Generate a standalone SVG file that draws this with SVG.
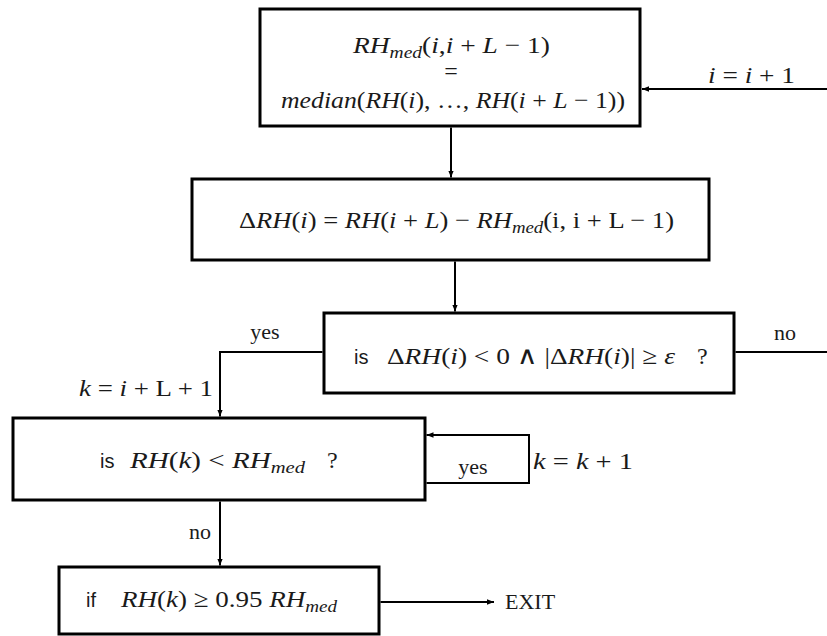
<svg xmlns="http://www.w3.org/2000/svg" width="827" height="636" viewBox="0 0 827 636">
<defs>
<style>
.box{fill:#fff;stroke:#000;stroke-width:3}
.c{fill:none;stroke:#000;stroke-width:2}
.m{font-family:"Liberation Serif","Times New Roman",serif;font-size:24px;fill:#1a1a1a}
.i{font-style:italic}
.s{font-size:17px;font-style:italic}
.op{font-family:"DejaVu Serif",serif;font-size:25px}
.l{font-family:"Liberation Serif","Times New Roman",serif;font-size:22px;fill:#1a1a1a}
.sans{font-family:"Liberation Sans",Arial,sans-serif;font-size:20px;fill:#1a1a1a}
</style>
<marker id="ah" viewBox="0 0 10 10" refX="10" refY="5" markerWidth="7" markerHeight="7" markerUnits="userSpaceOnUse" orient="auto"><path d="M0,1 L10,5 L0,9 z" fill="#000"/></marker>
</defs>
<rect width="827" height="636" fill="#fff"/>
<g id="connectors">
<path class="c" d="M827,89 H642" marker-end="url(#ah)"/>
<path class="c" d="M451,127.5 V177.5" marker-end="url(#ah)"/>
<path class="c" d="M455,261.5 V311.5" marker-end="url(#ah)"/>
<path class="c" d="M322.5,352 H220 V416.5" marker-end="url(#ah)"/>
<path class="c" d="M735.5,352 H827"/>
<path class="c" d="M426.5,483 H529 V435 H426.5" marker-end="url(#ah)"/>
<path class="c" d="M220,501.5 V565.5" marker-end="url(#ah)"/>
<path class="c" d="M380.5,602 H494" marker-end="url(#ah)"/>
</g>
<g id="labels">
<text class="m" x="708" y="83" textLength="87" lengthAdjust="spacingAndGlyphs"><tspan class="i">i</tspan> = <tspan class="i">i</tspan> + 1</text>
<text class="l" x="265" y="339" text-anchor="middle">yes</text>
<text class="l" x="785" y="340" text-anchor="middle">no</text>
<text class="m" x="79" y="396" textLength="134" lengthAdjust="spacingAndGlyphs"><tspan class="i">k</tspan> = <tspan class="i">i</tspan> + L + 1</text>
<text class="l" x="473" y="474" text-anchor="middle">yes</text>
<text class="m" x="533" y="469" textLength="100" lengthAdjust="spacingAndGlyphs"><tspan class="i">k</tspan> = <tspan class="i">k</tspan> + 1</text>
<text class="l" x="200" y="539" text-anchor="middle">no</text>
<text class="l" x="505" y="609">EXIT</text>
</g>
<g id="node-median">
<rect class="box" x="260" y="9" width="380" height="117"/>
<text class="m" x="353" y="53" textLength="197" lengthAdjust="spacingAndGlyphs"><tspan class="i">RH</tspan><tspan class="s" dy="5">med</tspan><tspan dy="-5">(</tspan><tspan class="i">i</tspan>,<tspan class="i">i</tspan> + <tspan class="i">L</tspan> − 1)</text>
<text class="m" x="451" y="79" text-anchor="middle">=</text>
<text class="m" x="281" y="108" textLength="344" lengthAdjust="spacingAndGlyphs"><tspan class="i">median</tspan>(<tspan class="i">RH</tspan>(<tspan class="i">i</tspan>), …, <tspan class="i">RH</tspan>(<tspan class="i">i</tspan> + <tspan class="i">L</tspan> − 1))</text>
</g>
<g id="node-delta">
<rect class="box" x="192" y="179" width="517" height="81"/>
<text class="m" x="239" y="228" textLength="435" lengthAdjust="spacingAndGlyphs">Δ<tspan class="i">RH</tspan>(<tspan class="i">i</tspan>) = <tspan class="i">RH</tspan>(<tspan class="i">i</tspan> + <tspan class="i">L</tspan>) − <tspan class="i">RH</tspan><tspan class="s" dy="5">med</tspan><tspan dy="-5">(i, i + L − 1)</tspan></text>
</g>
<g id="node-decision">
<rect class="box" x="324" y="313" width="410" height="80"/>
<text class="sans" x="354" y="364">is</text>
<text class="m" x="387" y="364" textLength="288" lengthAdjust="spacingAndGlyphs">Δ<tspan class="i">RH</tspan>(<tspan class="i">i</tspan>) &lt; 0 <tspan class="op">∧</tspan> |Δ<tspan class="i">RH</tspan>(<tspan class="i">i</tspan>)| ≥  <tspan class="i">ε</tspan></text>
<text class="m" x="697" y="364">?</text>
</g>
<g id="node-check">
<rect class="box" x="13" y="418" width="412" height="82"/>
<text class="sans" x="100" y="468">is</text>
<text class="m" x="130" y="468" textLength="175" lengthAdjust="spacingAndGlyphs"><tspan class="i">RH</tspan>(<tspan class="i">k</tspan>) &lt; <tspan class="i">RH</tspan><tspan class="s" dy="5">med</tspan></text>
<text class="m" x="327" y="468">?</text>
</g>
<g id="node-if">
<rect class="box" x="59" y="567" width="320" height="67"/>
<text class="sans" x="86" y="607">if</text>
<text class="m" x="121" y="607" textLength="216" lengthAdjust="spacingAndGlyphs"><tspan class="i">RH</tspan>(<tspan class="i">k</tspan>) ≥ 0.95 <tspan class="i">RH</tspan><tspan class="s" dy="5">med</tspan></text>
</g>
</svg>
